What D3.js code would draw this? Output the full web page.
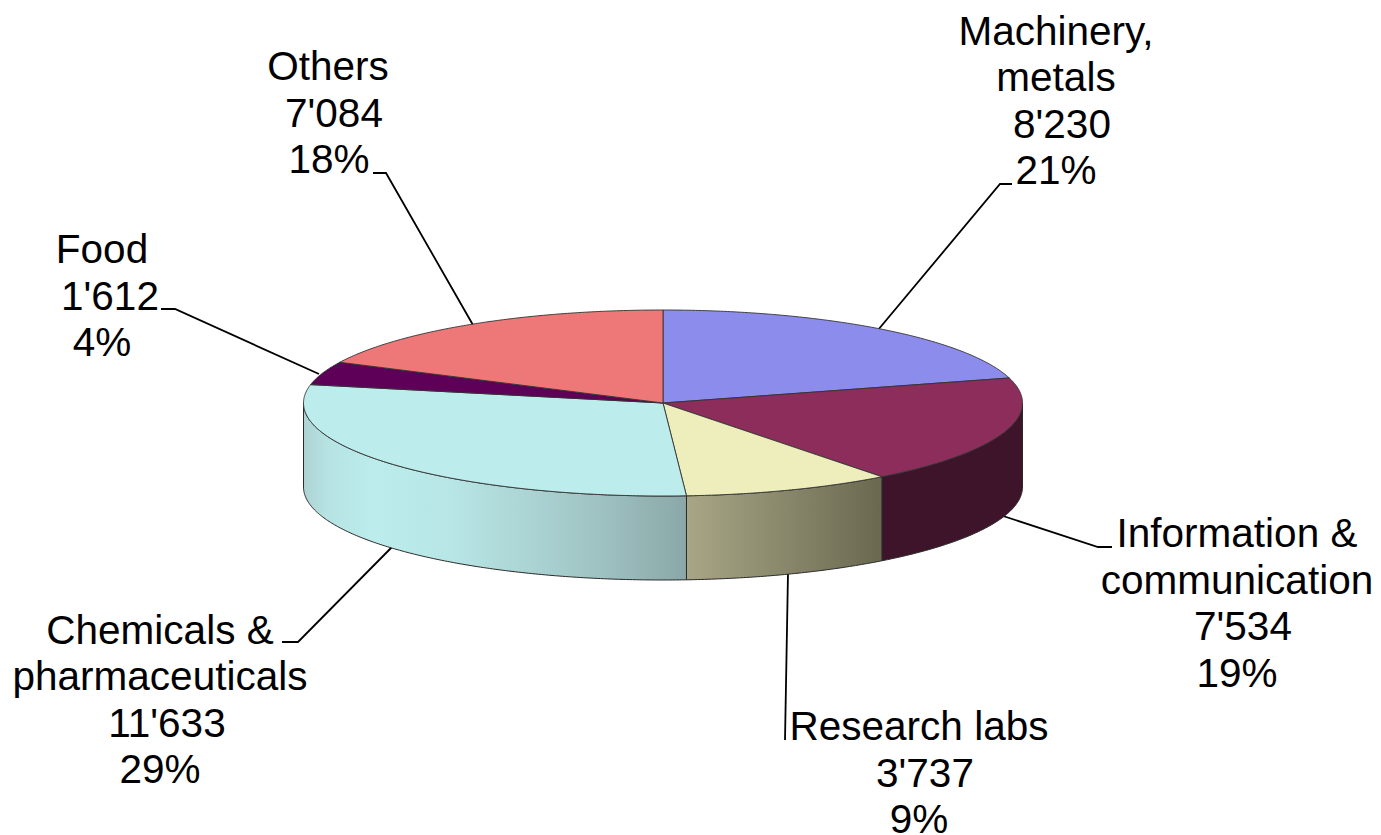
<!DOCTYPE html>
<html><head><meta charset="utf-8">
<script src="https://cdn.jsdelivr.net/npm/d3@7"></script>
<style>html,body{margin:0;padding:0;background:#fff;overflow:hidden}svg{display:block}</style>
</head><body><svg id="c" width="1381" height="835"></svg>
<script>
const categories = [["Machinery,","metals"],["Information &","communication"],["Research labs"],["Chemicals &","pharmaceuticals"],["Food"],["Others"]];
const values = [8230,7534,3737,11633,1612,7084];
const valueLabels = ["8'230","7'534","3'737","11'633","1'612","7'084"];
const percentLabels = ["21%","19%","9%","29%","4%","18%"];
const topColors = ["#8c8cec","#8c2d5c","#eeeebc","#bcecec","#5e0058","#ee7777"];

// layout
const labelCenters = [[1056,1056,1062,1056],[1237,1237,1243,1237],[919,925,919],[160,160,167,160],[102,110,102],[328,334,329]];
const labelBaselines = [44.5,547,740,643.5,263,80];
const leaders = [
  [[878,330],[1000,184],[1012,184]],
  [[1003,516],[1098,547],[1112,547]],
  [[788,573],[785,740]],
  [[392,547],[298,642],[282,642]],
  [[319,374],[175,309],[161,309]],
  [[473,325],[386,173],[373,173]]
];
const fontSize = 40.5, lineStep = 46.5;

const svg = d3.select("#c");
const x = d3.scaleLinear().domain([-1,1]).range([303.5,1022.5]);
const y = d3.scaleLinear().domain([-1,1]).range([496,310]);
const depth = 84;
const pie = d3.pie().sort(null).value(d=>d).startAngle(0).endAngle(2*Math.PI);
const arcs = pie(values);
const line = d3.line();
const pt = (a,dy=0)=>[x(Math.sin(a)), y(Math.cos(a))+dy];
const rim = (a0,a1,dy=0)=>{
  const n = Math.max(2,Math.ceil((a1-a0)/0.01));
  return d3.range(n+1).map(i=>pt(a0+(a1-a0)*i/n,dy));
};

// gradients for the front walls
const defs = svg.append("defs");
const grad = (id,x1,x2,stops)=>{
  const g = defs.append("linearGradient").attr("id",id).attr("gradientUnits","userSpaceOnUse")
    .attr("x1",x1).attr("x2",x2).attr("y1",0).attr("y2",0);
  stops.forEach(s=>g.append("stop").attr("offset",s[0]).attr("stop-color",s[1]));
};
grad("wall3",303,686,[[0,"#aed2d2"],[0.06,"#b6e2e2"],[0.18,"#bcecec"],[0.38,"#b8e6e6"],[0.6,"#abd3d3"],[0.8,"#9dbfbf"],[1,"#8aa8a8"]]);
grad("wall2",686,881,[[0,"#a8a686"],[0.45,"#8c8b6e"],[1,"#6a6950"]]);
grad("wall1",881,1023,[[0,"#3d142a"],[1,"#3d142a"]]);
const wallFill = {1:"url(#wall1)",2:"url(#wall2)",3:"url(#wall3)"};

// leader lines
svg.append("g").selectAll("path").data(leaders).join("path")
  .attr("d",d=>line(d)).attr("fill","none").attr("stroke","#000").attr("stroke-width",1.8);

// front walls (only the part of each slice on the near half of the ellipse)
const frontA = Math.PI/2, frontB = 3*Math.PI/2;
const walls = arcs.map((d,i)=>({i,a0:Math.max(d.startAngle,frontA),a1:Math.min(d.endAngle,frontB)})).filter(d=>d.a1>d.a0);
svg.append("g").selectAll("path").data(walls).join("path")
  .attr("d",d=>line(rim(d.a0,d.a1).concat(rim(d.a0,d.a1,depth).reverse()))+"Z")
  .attr("fill",d=>wallFill[d.i])
  .attr("stroke","#2a2a2a").attr("stroke-width",1).attr("stroke-linejoin","round");

// top faces
svg.append("g").selectAll("path").data(arcs).join("path")
  .attr("d",d=>line([[x(0),y(0)]].concat(rim(d.startAngle,d.endAngle)))+"Z")
  .attr("fill",(d,i)=>topColors[i])
  .attr("stroke","#333").attr("stroke-width",0.9).attr("stroke-linejoin","round");

// labels
const texts = categories.map((c,i)=>c.concat([valueLabels[i],percentLabels[i]]));
const g = svg.append("g").attr("font-family","'Liberation Sans',Arial,sans-serif").attr("font-size",fontSize).attr("fill","#000");
texts.forEach((lines,i)=>{
  g.append("text").selectAll("tspan").data(lines).join("tspan")
    .attr("text-anchor","middle")
    .attr("x",(d,j)=>labelCenters[i][j])
    .attr("y",(d,j)=>labelBaselines[i]+j*lineStep)
    .text(d=>d);
});
</script></body></html>
